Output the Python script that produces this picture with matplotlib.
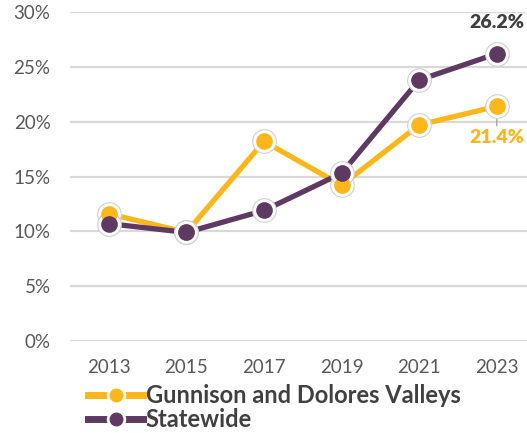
import matplotlib
matplotlib.use("Agg")
import matplotlib.pyplot as plt
from matplotlib.lines import Line2D
from matplotlib.legend_handler import HandlerTuple

years = ["2013", "2015", "2017", "2019", "2021", "2023"]
gunnison = [11.6, 9.9, 18.2, 14.2, 19.7, 21.4]
statewide = [10.7, 9.9, 11.9, 15.3, 23.8, 26.2]
series_names = ["Gunnison and Dolores Valleys", "Statewide"]
yticks = [0, 5, 10, 15, 20, 25, 30]

YELLOW = "#FDB71A"
PURPLE = "#5E3A63"
GRID = "#D9D9D9"
TICK = "#595959"
TEXT = "#404040"

plt.rcParams['font.family'] = ['Lato', 'DejaVu Sans']

fig = plt.figure(figsize=(5.27, 4.33), dpi=100)
ax = fig.add_axes([70/527, 92/433, 465.6/527, 329/433])

x = list(range(len(years)))
for vals, col in [(gunnison, YELLOW), (statewide, PURPLE)]:
    ax.plot(x, vals, color=col, lw=3.8, solid_capstyle='round', zorder=3, clip_on=False)
    ax.plot(x, vals, ls='none', marker='o', ms=17, mfc='white', mec='#D0D0D0',
            mew=0.8, zorder=4, clip_on=False)
    ax.plot(x, vals, ls='none', marker='o', ms=12, mfc=col, mec=col, mew=0,
            zorder=5, clip_on=False)

ax.set_xlim(-0.5, len(years) - 0.5)
ax.set_ylim(0, 30)
ax.set_yticks(yticks)
ax.set_yticklabels([f"{v}%" for v in yticks])
ax.set_xticks(x)
ax.set_xticklabels(years)
for s in ax.spines.values():
    s.set_visible(False)
ax.grid(axis='y', color=GRID, lw=1.6)
ax.set_axisbelow(True)
ax.tick_params(axis='both', length=0, labelsize=13.5, colors=TICK)
ax.tick_params(axis='y', pad=14)
ax.tick_params(axis='x', pad=13)

# data labels
ax.annotate(f"{statewide[-1]}%", (x[-1], statewide[-1]), xytext=(0, 16),
            textcoords='offset points', ha='center', va='bottom',
            fontsize=14, fontweight='heavy', color=TEXT, annotation_clip=False)
ax.annotate(f"{gunnison[-1]}%", (x[-1], gunnison[-1]), xytext=(0, -16),
            textcoords='offset points', ha='center', va='top',
            fontsize=14, fontweight='heavy', color=YELLOW, annotation_clip=False,
            arrowprops=dict(arrowstyle='-', color='#A6A6A6', lw=1,
                            shrinkA=0, shrinkB=2))

# legend
handles = []
for col in [YELLOW, PURPLE]:
    ln = Line2D([], [], color=col, lw=5)
    halo = Line2D([], [], ls='none', marker='o', ms=13, mfc='white', mec='white')
    dot = Line2D([], [], ls='none', marker='o', ms=9, mfc=col, mec=col)
    handles.append((ln, halo, dot))
leg = fig.legend(handles, series_names, handler_map={tuple: HandlerTuple(ndivide=1)},
                 loc='upper left', bbox_to_anchor=(88/527, 1 - 384/433),
                 frameon=False, handlelength=2.35, handletextpad=0.1,
                 labelspacing=0.05, borderaxespad=0, borderpad=0,
                 prop={'size': 17, 'weight': 'bold'})
for t in leg.get_texts():
    t.set_color(TEXT)

fig.savefig("out.png", dpi=100)
